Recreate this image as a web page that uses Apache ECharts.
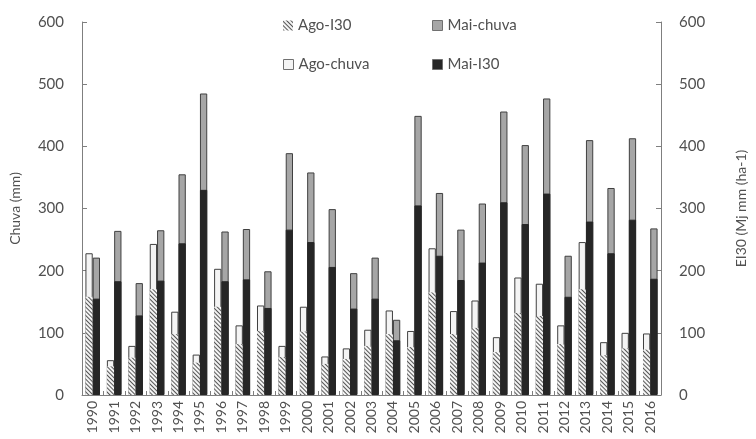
<!DOCTYPE html>
<html>
<head>
<meta charset="utf-8">
<script src="https://cdn.jsdelivr.net/npm/echarts@6/dist/echarts.min.js"></script>
<style>html,body{margin:0;padding:0;background:#fff}#c{width:756px;height:439px}</style>
</head>
<body>
<div id="c"></div>
<script>
var years = ['1990','1991','1992','1993','1994','1995','1996','1997','1998','1999','2000','2001','2002','2003','2004','2005','2006','2007','2008','2009','2010','2011','2012','2013','2014','2015','2016'];
var agoChuva = [228,56,79,243,134,65,203,112,144,79,142,62,75,105,136,103,236,135,152,93,189,179,112,246,85,100,99];
var agoI30   = [158,46,60,170,98,52,142,82,103,61,102,50,58,79,98,77,165,98,108,69,132,127,82,170,64,75,73];
var maiChuva = [221,264,180,265,355,485,263,267,199,389,358,299,196,221,121,449,325,266,308,456,402,477,224,410,333,413,268];
var maiI30   = [155,183,128,184,244,330,183,186,140,266,246,206,139,155,88,305,224,185,213,310,275,324,158,279,228,282,187];
var yTicks = [0,100,200,300,400,500,600];

var FONT = 'Lato';
var txt = '#505050';
var axisCol = '#7f7f7f';
var hatch = {symbol:'rect', symbolSize:1, color:'#555555', dashArrayX:[1,0], dashArrayY:[1,2], rotation: Math.PI/4};

function xAx(show){
  return {
    type:'category', data:years, gridIndex:0, show:show,
    boundaryGap:true,
    axisLine:{show:true, lineStyle:{color:axisCol, width:1}},
    axisTick:{show:true, inside:true, length:4, alignWithLabel:false, lineStyle:{color:axisCol}},
    axisLabel:{rotate:90, color:txt, fontFamily:FONT, fontSize:14, margin:6, interval:0}
  };
}
function yAx(pos, name, gap){
  return {
    type:'value', position:pos, min:yTicks[0], max:yTicks[yTicks.length-1], interval:100,
    name:name, nameLocation:'middle', nameGap:gap, nameRotate:90,
    nameTextStyle:{color:txt, fontFamily:FONT, fontSize:14},
    axisLine:{show:true, lineStyle:{color:axisCol, width:1}},
    axisTick:{show:true, inside:true, length:5, lineStyle:{color:axisCol}},
    splitLine:{show:false},
    axisLabel:{color:txt, fontFamily:FONT, fontSize:15, margin:18}
  };
}
function leg(name, left, top, bw){
  return {data:[name], left:left, top:top, itemWidth:10, itemHeight:10, itemGap:5,
    itemStyle:{borderWidth:bw, borderColor:'#707070'},
    textStyle:{color:txt, fontFamily:FONT, fontSize:15}, icon:'rect'};
}

var chart = echarts.init(document.getElementById('c'), null, {renderer:'canvas'});
chart.setOption({
  animation:false,
  grid:{left:82, right:80, top:22, bottom:44, containLabel:false},
  legend:[leg('Ago-I30',278,13,0), leg('Mai-chuva',427,13,1), leg('Ago-chuva',278,52,1), leg('Mai-I30',427,52,1)],
  xAxis:[xAx(true), xAx(false)],
  yAxis:[yAx('left','Chuva (mm)',60), yAx('right','EI30 (Mj mm (ha-1)',73)],
  series:[
    {name:'Ago-chuva', type:'bar', xAxisIndex:0, yAxisIndex:0, data:agoChuva, barGap:'0%', barCategoryGap:'32%',
      itemStyle:{color:'#f4f4f4', borderColor:'#404040', borderWidth:1}},
    {name:'Mai-chuva', type:'bar', xAxisIndex:0, yAxisIndex:0, data:maiChuva, barGap:'0%', barCategoryGap:'32%',
      itemStyle:{color:'#a6a6a6', borderColor:'#404040', borderWidth:1}},
    {name:'Ago-I30', type:'bar', xAxisIndex:1, yAxisIndex:1, data:agoI30, barGap:'0%', barCategoryGap:'32%',
      itemStyle:{color:'#f4f4f4', decal:hatch}},
    {name:'Mai-I30', type:'bar', xAxisIndex:1, yAxisIndex:1, data:maiI30, barGap:'0%', barCategoryGap:'32%',
      itemStyle:{color:'#262626', borderColor:'#262626', borderWidth:1}}
  ]
});
</script>
</body>
</html>
